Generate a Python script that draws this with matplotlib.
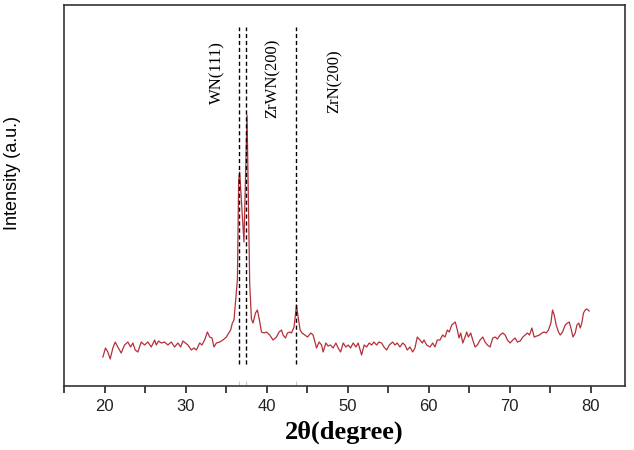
import matplotlib
matplotlib.use("Agg")
import matplotlib.pyplot as plt
from matplotlib.ticker import MultipleLocator

# XRD pattern (2theta in degree, intensity in a.u.)
two_theta = [19.8, 20.12, 20.41, 20.70, 21.03, 21.32, 21.64, 22.06, 22.47, 22.88,
             23.21, 23.50, 23.79, 24.11, 24.53, 24.94, 25.35, 25.77, 26.18, 26.39,
             26.67, 27.00, 27.41, 27.82, 28.24, 28.65, 29.05, 29.39, 29.67, 29.97,
             30.29, 30.71, 31.03, 31.33, 31.74, 32.02, 32.35, 32.69, 32.97, 33.26,
             33.50, 33.80, 34.21, 34.61, 35.03, 35.32, 35.56, 35.77, 35.97, 36.15,
             36.39, 36.55, 36.67, 37.20, 37.58, 37.91, 38.12, 38.32, 38.62, 38.86,
             39.11, 39.36, 39.68, 39.97, 40.38, 40.79, 41.21, 41.53, 41.83, 42.02,
             42.32, 42.57, 42.85, 43.06, 43.38, 43.68, 43.88, 44.13, 44.37, 44.71,
             45.04, 45.45, 45.73, 46.15, 46.47, 46.77, 46.97, 47.30, 47.58, 47.88,
             48.20, 48.54, 48.82, 49.12, 49.44, 49.77, 50.06, 50.35, 50.67, 51.01,
             51.29, 51.71, 52.03, 52.33, 52.65, 52.95, 53.23, 53.56, 53.85, 54.18,
             54.47, 54.80, 55.12, 55.54, 55.82, 56.11, 56.44, 56.78, 57.06, 57.34,
             57.68, 58.01, 58.29, 58.58, 58.91, 59.20, 59.41, 59.74, 60.15, 60.48,
             60.76, 61.05, 61.38, 61.71, 62.00, 62.28, 62.53, 62.83, 63.11, 63.27,
             63.52, 63.73, 63.94, 64.19, 64.47, 64.68, 64.88, 65.17, 65.42, 65.71,
             65.99, 66.32, 66.66, 66.94, 67.23, 67.56, 67.89, 68.18, 68.46, 68.79,
             69.13, 69.41, 69.70, 70.03, 70.36, 70.65, 70.93, 71.27, 71.60, 71.88,
             72.17, 72.42, 72.71, 73.00, 73.33, 73.65, 73.95, 74.23, 74.48, 74.76,
             75.06, 75.26, 75.47, 75.71, 76.00, 76.21, 76.49, 76.83, 77.11, 77.32,
             77.53, 77.78, 78.06, 78.27, 78.49, 78.68, 78.87, 79.08, 79.29, 79.49,
             79.78]
intensity = [29, 38, 34, 27, 38, 44, 39, 33, 41, 44,
             39, 43, 36, 34, 44, 41, 44, 39, 46, 41,
             45, 43, 44, 41, 44, 39, 43, 39, 45, 43,
             41, 36, 38, 36, 43, 41, 46, 54, 49, 48,
             39, 43, 44, 46, 49, 53, 56, 63, 66, 83,
             106, 206, 214, 144, 271, 102, 67, 63, 73, 76,
             66, 54, 53, 54, 51, 46, 49, 54, 56, 51,
             48, 53, 54, 53, 59, 81, 69, 56, 53, 51,
             49, 53, 51, 38, 44, 41, 34, 43, 40, 41,
             38, 43, 38, 34, 43, 39, 41, 38, 43, 39,
             43, 31, 41, 39, 43, 41, 44, 41, 44, 43,
             39, 36, 41, 44, 41, 43, 39, 43, 41, 36,
             39, 34, 38, 49, 46, 43, 46, 41, 39, 43,
             39, 46, 46, 51, 49, 56, 54, 61, 63, 64,
             56, 48, 53, 43, 49, 54, 49, 53, 46, 39,
             41, 46, 49, 44, 41, 39, 48, 49, 47, 51,
             53, 51, 46, 43, 46, 48, 44, 45, 49, 51,
             53, 51, 58, 49, 50, 51, 53, 54, 53, 56,
             63, 76, 71, 61, 54, 51, 54, 61, 63, 64,
             58, 49, 53, 61, 63, 58, 63, 73, 76, 77,
             75]

peak_pos = [36.55, 37.42, 43.68]
peak_labels = ["WN(111)", "ZrWN(200)", "ZrN(200)"]
label_x = [33.96, 40.75, 48.41]
label_y = [313, 308, 305]

fig = plt.figure(figsize=(6.34, 4.5), dpi=100)
ax = fig.add_axes([0.1009, 0.1422, 0.8849, 0.8467])

ax.plot(two_theta, intensity, color="#b5303a", lw=0.9)

ax.vlines(peak_pos, 22, 359, colors="black", linestyles=(0, (3, 2)), lw=1)
ax.vlines(peak_pos, 0, 5, colors="#c8c8c8", lw=0.8)

for x, y, s in zip(label_x, label_y, peak_labels):
    ax.text(x, y, s, rotation=90, ha="center", va="center",
            fontsize=12, family="Liberation Serif")

ax.set_xlim(15, 84.2)
ax.set_ylim(0, 381)
ax.xaxis.set_major_locator(MultipleLocator(10))
ax.xaxis.set_minor_locator(MultipleLocator(5))
ax.set_yticks([])
ax.tick_params(axis="x", which="both", direction="out", length=5, width=1.2,
               colors="#222222", labelsize=12, pad=4)
for lbl in ax.get_xticklabels():
    lbl.set_family("Liberation Sans")
for sp in ax.spines.values():
    sp.set_linewidth(1.2)
    sp.set_color("#333333")

ax.set_xlabel("2θ(degree)", fontsize=19, fontweight="bold",
              family="Liberation Serif", labelpad=5)
ax.set_ylabel("Intensity (a.u.)", fontsize=13, family="Liberation Sans")
ax.yaxis.set_label_coords(-0.077, 0.56)

fig.savefig("out.png", dpi=100)
